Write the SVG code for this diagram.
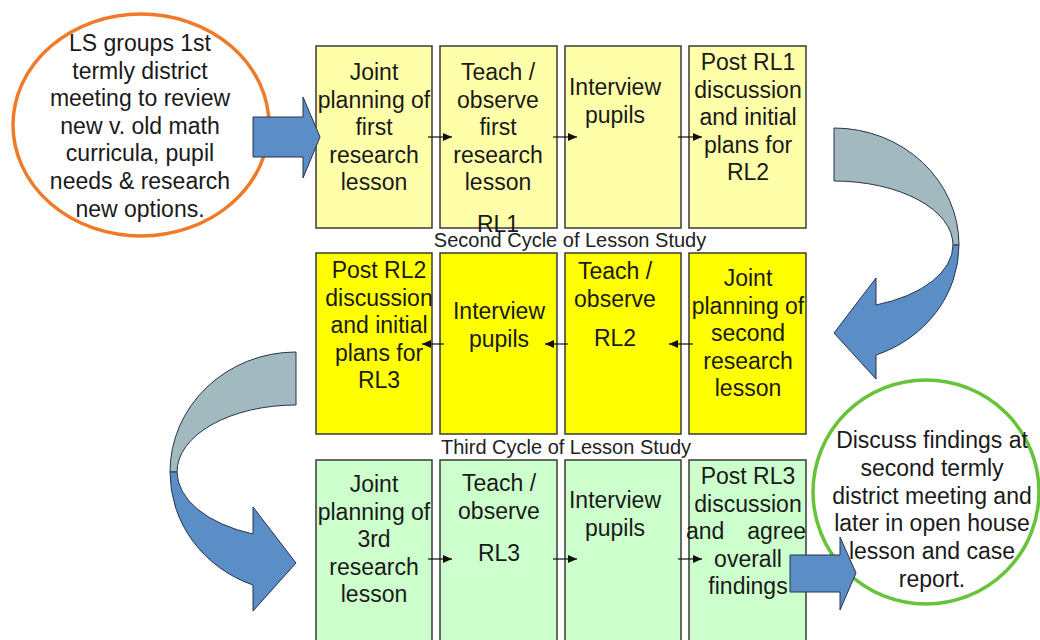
<svg xmlns="http://www.w3.org/2000/svg" width="1040" height="640" viewBox="0 0 1040 640">
<defs>
<style>
.t{font-family:"Liberation Sans",Arial,sans-serif;font-size:23px;fill:#1a1a1a;text-anchor:middle}
.lbl{font-family:"Liberation Sans",Arial,sans-serif;font-size:20px;fill:#222;text-anchor:middle}
.b1{fill:#ffffaa;stroke:#3a3a3a;stroke-width:1.5}
.b2{fill:#ffff00;stroke:#3a3a3a;stroke-width:1.5}
.b3{fill:#ccffcc;stroke:#3a3a3a;stroke-width:1.5}
.sa{stroke:#111;stroke-width:1.2;fill:none;marker-end:url(#ah)}
.blue{fill:#5b8ec6;stroke:#26324a;stroke-width:1}
.gray{fill:#a2b9bf;stroke:#26324a;stroke-width:1}
</style>
<marker id="ah" markerUnits="userSpaceOnUse" markerWidth="10" markerHeight="8" refX="9" refY="4" orient="auto">
<path d="M0,0 L9,4 L0,8 Z" fill="#111"/>
</marker>
</defs>
<rect width="1040" height="640" fill="#ffffff"/>

<g id="start-meeting">
<ellipse cx="141" cy="125" rx="128" ry="111" fill="#fff" stroke="#f07a28" stroke-width="3.5"/>
<text class="t" x="140" y="51">LS groups 1st</text>
<text class="t" x="140" y="78.6">termly district</text>
<text class="t" x="140" y="106.2">meeting to review</text>
<text class="t" x="140" y="133.8">new v. old math</text>
<text class="t" x="140" y="161.4">curricula, pupil</text>
<text class="t" x="140" y="189">needs &amp; research</text>
<text class="t" x="140" y="216.6">new options.</text>
</g>

<g id="c1-plan">
<rect class="b1" x="316" y="46" width="116" height="182"/>
<text class="t" x="374" y="80">Joint</text>
<text class="t" x="374" y="107.6">planning of</text>
<text class="t" x="374" y="135.2">first</text>
<text class="t" x="374" y="162.8">research</text>
<text class="t" x="374" y="190.4">lesson</text>
</g>
<g id="c1-teach">
<rect class="b1" x="440" y="46" width="117" height="182"/>
<text class="t" x="498" y="80">Teach /</text>
<text class="t" x="498" y="107.6">observe</text>
<text class="t" x="498" y="135.2">first</text>
<text class="t" x="498" y="162.8">research</text>
<text class="t" x="498" y="190.4">lesson</text>
<text class="t" x="498" y="232">RL1</text>
</g>
<g id="c1-interview">
<rect class="b1" x="565" y="46" width="116" height="182"/>
<text class="t" x="615" y="95">Interview</text>
<text class="t" x="615" y="122.6">pupils</text>
</g>
<g id="c1-post">
<rect class="b1" x="689" y="46" width="117" height="182"/>
<text class="t" x="748" y="70">Post RL1</text>
<text class="t" x="748" y="97.6">discussion</text>
<text class="t" x="748" y="125.2">and initial</text>
<text class="t" x="748" y="152.8">plans for</text>
<text class="t" x="748" y="180.4">RL2</text>
</g>

<g id="label-second">
<text class="lbl" x="570" y="247">Second Cycle of Lesson Study</text>
</g>

<g id="c2-post">
<rect class="b2" x="316" y="253" width="116" height="181"/>
<text class="t" x="379" y="278">Post RL2</text>
<text class="t" x="379" y="305.6">discussion</text>
<text class="t" x="379" y="333.2">and initial</text>
<text class="t" x="379" y="360.8">plans for</text>
<text class="t" x="379" y="388.4">RL3</text>
</g>
<g id="c2-interview">
<rect class="b2" x="440" y="253" width="117" height="181"/>
<text class="t" x="499" y="319">Interview</text>
<text class="t" x="499" y="346.6">pupils</text>
</g>
<g id="c2-teach">
<rect class="b2" x="565" y="253" width="116" height="181"/>
<text class="t" x="615" y="279">Teach /</text>
<text class="t" x="615" y="306.6">observe</text>
<text class="t" x="615" y="346">RL2</text>
</g>
<g id="c2-plan">
<rect class="b2" x="689" y="253" width="117" height="181"/>
<text class="t" x="748" y="286">Joint</text>
<text class="t" x="748" y="313.6">planning of</text>
<text class="t" x="748" y="341.2">second</text>
<text class="t" x="748" y="368.8">research</text>
<text class="t" x="748" y="396.4">lesson</text>
</g>

<g id="label-third">
<text class="lbl" x="566" y="454">Third Cycle of Lesson Study</text>
</g>

<g id="c3-plan">
<rect class="b3" x="316" y="460" width="116" height="190"/>
<text class="t" x="374" y="492">Joint</text>
<text class="t" x="374" y="519.6">planning of</text>
<text class="t" x="374" y="547.2">3rd</text>
<text class="t" x="374" y="574.8">research</text>
<text class="t" x="374" y="602.4">lesson</text>
</g>
<g id="c3-teach">
<rect class="b3" x="440" y="460" width="117" height="190"/>
<text class="t" x="499" y="491">Teach /</text>
<text class="t" x="499" y="518.6">observe</text>
<text class="t" x="499" y="561">RL3</text>
</g>
<g id="c3-interview">
<rect class="b3" x="565" y="460" width="116" height="190"/>
<text class="t" x="615" y="508">Interview</text>
<text class="t" x="615" y="535.6">pupils</text>
</g>
<g id="c3-post">
<rect class="b3" x="689" y="460" width="117" height="190"/>
<text class="t" x="748" y="484">Post RL3</text>
<text class="t" x="748" y="511.6">discussion</text>
<text class="t" y="539.2"><tspan x="686" style="text-anchor:start">and</tspan><tspan x="806" style="text-anchor:end">agree</tspan></text>
<text class="t" x="748" y="566.8">overall</text>
<text class="t" x="748" y="594.4">findings</text>
</g>

<g id="end-meeting">
<ellipse cx="926" cy="492" rx="113" ry="112" fill="#fff" stroke="#66c33a" stroke-width="3.5"/>
<text class="t" x="932" y="448">Discuss findings at</text>
<text class="t" x="932" y="475.8">second termly</text>
<text class="t" x="932" y="503.6">district meeting and</text>
<text class="t" x="932" y="531.4">later in open house</text>
<text class="t" x="932" y="559.2">lesson and case</text>
<text class="t" x="932" y="587">report.</text>
</g>

<g id="connectors">
<line class="sa" x1="428" y1="137" x2="452" y2="137"/>
<line class="sa" x1="553" y1="137" x2="577" y2="137"/>
<line class="sa" x1="678" y1="137" x2="702" y2="137"/>
<line class="sa" x1="444" y1="344" x2="422" y2="344"/>
<line class="sa" x1="568" y1="344" x2="545" y2="344"/>
<line class="sa" x1="693" y1="344" x2="669" y2="344"/>
<line class="sa" x1="428" y1="559" x2="452" y2="559"/>
<line class="sa" x1="553" y1="559" x2="577" y2="559"/>
<line class="sa" x1="678" y1="559" x2="702" y2="559"/>
<path class="blue" d="M253,117 L303,117 L303,97 L320,137 L303,178 L303,157 L253,157 Z"/>
<path class="gray" d="M834,128 A125,117 0 0 1 959,245 L953,245 A119,64 0 0 0 834,181 Z"/>
<path class="blue" d="M959,245 A125,117 0 0 1 876,355 L876,379 L834,333 L876,278 L876,305 A119,64 0 0 0 953,245 Z"/>
<path class="gray" d="M296,352 A126,120 0 0 0 170,472 L177,472 A119,67 0 0 1 296,405 Z"/>
<path class="blue" d="M170,472 A126,120 0 0 0 253,585 L253,611 L296,563 L253,507 L253,534 A119,67 0 0 1 177,472 Z"/>
<path class="blue" d="M790,555 L840,555 L840,537 L856,573 L840,610 L840,592 L790,592 Z"/>
</g>
</svg>
